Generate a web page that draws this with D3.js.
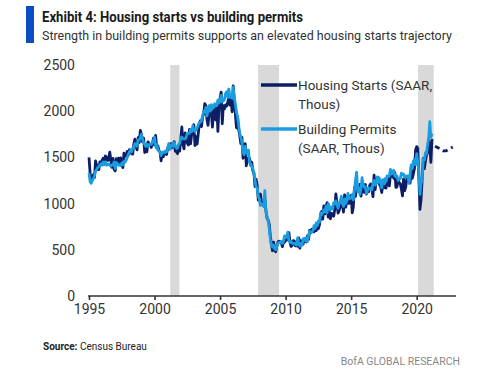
<!DOCTYPE html>
<html>
<head>
<meta charset="utf-8">
<script src="https://cdn.jsdelivr.net/npm/d3@7"></script>
<style>
  body { margin: 0; background: #fff; }
  svg { display: block; font-family: Roboto, "Open Sans", sans-serif; }
</style>
</head>
<body>
<svg id="chart" width="500" height="372"></svg>
<script>
// monthly series, Jan 1995 .. Mar 2021 (thousands, SAAR)
var firstYear = 1995;
var startsMonthly = [
  1500,1330,1250,1267,1314,1281,1461,1416,1369,1369,1452,1431,
  1467,1491,1424,1516,1504,1467,1472,1557,1475,1392,1489,1370,
  1355,1486,1457,1492,1442,1494,1437,1390,1546,1520,1510,1566,
  1525,1584,1567,1540,1536,1641,1698,1614,1582,1715,1660,1792,
  1748,1670,1710,1553,1611,1559,1669,1648,1635,1608,1648,1708,
  1636,1737,1604,1626,1575,1559,1463,1541,1507,1549,1551,1532,
  1600,1625,1590,1649,1605,1636,1670,1567,1562,1540,1602,1568,
  1698,1829,1642,1592,1764,1717,1655,1633,1804,1648,1753,1788,
  1853,1629,1726,1643,1751,1867,1897,1833,1939,1967,2083,2057,
  1911,1846,1998,2003,1981,1828,2002,2024,1905,2072,1782,2042,
  2144,2207,1864,2061,2025,2068,2054,2095,2151,2065,2147,1994,
  2273,2119,1969,1821,1942,1802,1737,1650,1720,1491,1570,1649,
  1409,1480,1495,1490,1415,1448,1354,1330,1183,1264,1197,1037,
  1084,1103,1005,1013,973,1046,923,844,820,777,652,560,
  490,582,505,478,540,585,594,586,585,534,588,581,
  614,604,636,687,583,536,546,599,594,543,545,539,
  630,517,600,554,561,608,623,585,650,610,711,694,
  723,704,695,753,708,757,728,770,854,915,833,976,
  888,962,1010,853,919,835,894,883,864,936,1105,1012,
  897,924,970,1052,985,909,1095,961,1023,1074,1002,1079,
  1090,900,963,1174,1077,1199,1141,1134,1207,1080,1172,1164,
  1122,1208,1104,1163,1128,1197,1213,1160,1075,1309,1151,1257,
  1232,1282,1206,1185,1120,1215,1178,1172,1168,1247,1289,1192,
  1317,1295,1325,1274,1338,1175,1181,1263,1226,1215,1157,1084,
  1266,1140,1181,1275,1294,1240,1223,1394,1274,1325,1381,1580,
  1617,1599,1275,938,1046,1258,1489,1376,1459,1530,1547,1680,
  1625,1447,1700
];
var permitsMonthly = [
  1330,1240,1220,1250,1270,1300,1350,1369,1390,1402,1410,1432,
  1415,1450,1430,1450,1418,1418,1430,1420,1405,1419,1418,1450,
  1380,1445,1430,1415,1420,1410,1440,1420,1460,1450,1470,1500,
  1530,1560,1580,1560,1600,1600,1650,1650,1620,1690,1690,1710,
  1750,1700,1660,1640,1620,1640,1620,1640,1640,1640,1660,1680,
  1720,1620,1640,1580,1570,1560,1520,1550,1560,1550,1570,1560,
  1600,1650,1590,1620,1640,1620,1660,1620,1600,1600,1640,1650,
  1710,1720,1700,1700,1700,1720,1760,1760,1760,1800,1780,1840,
  1800,1780,1800,1820,1850,1880,1880,1900,1950,2000,1990,2040,
  1950,2010,2060,2000,2070,2030,2040,2080,2060,2060,2120,2090,
  2120,2170,2100,2110,2130,2190,2210,2150,2240,2150,2150,2140,
  2260,2150,2080,1990,1940,1850,1760,1720,1660,1560,1530,1620,
  1560,1540,1580,1440,1430,1400,1380,1330,1250,1180,1170,1080,
  1050,980,1000,990,970,1140,910,860,820,730,620,550,
  530,550,510,500,540,570,580,580,590,570,590,650,
  630,650,690,600,580,590,570,570,570,560,550,630,
  570,540,570,550,620,620,600,630,590,650,700,680,
  690,710,760,730,790,760,810,800,900,880,900,930,
  910,970,900,1000,970,930,960,940,1010,1000,1030,990,
  950,1010,1010,1080,1000,970,1050,1000,1030,1110,1050,1060,
  1060,1100,1040,1140,1250,1340,1130,1170,1100,1160,1280,1200,
  1180,1180,1110,1140,1170,1160,1170,1150,1230,1250,1200,1220,
  1290,1230,1270,1230,1170,1260,1220,1270,1240,1300,1290,1300,
  1370,1320,1350,1360,1300,1290,1300,1250,1270,1270,1330,1310,
  1320,1290,1290,1300,1300,1220,1320,1420,1380,1460,1480,1420,
  1540,1450,1350,1100,1220,1260,1480,1470,1550,1540,1640,1710,
  1886,1720,1760
];
// dashed projection for housing starts
var forecastYears = [2021.4, 2021.75, 2022.0, 2022.25, 2022.5, 2022.75];
var forecastStarts = [1620, 1595, 1570, 1572, 1592, 1612];
// recession shading
var recessions = [[2001.2, 2001.9], [2007.9, 2009.5], [2020.1, 2021.3]];
var yTicks = [0, 500, 1000, 1500, 2000, 2500];
var xTicks = [1995, 2000, 2005, 2010, 2015, 2020];

var navy = '#0c1f66';
var light = '#1a9de0';

var svg = d3.select('#chart');
var x = d3.scaleLinear().domain([1995, 2023]).range([89, 456]);
var y = d3.scaleLinear().domain([0, 2500]).range([296, 65]);

var toPoints = function(arr) {
  return arr.map(function(v, i) { return { t: firstYear + i / 12, v: v }; });
};

// title block
svg.append('rect').attr('x', 26).attr('y', 6).attr('width', 8).attr('height', 37).attr('fill', '#0a4dc4');
svg.append('text').attr('x', 42).attr('y', 22)
  .attr('font-size', 14).attr('font-weight', 'bold').attr('fill', '#1a1a1a')
  .attr('textLength', 261).attr('lengthAdjust', 'spacingAndGlyphs')
  .text('Exhibit 4: Housing starts vs building permits');
svg.append('text').attr('x', 42).attr('y', 40)
  .attr('font-size', 13).attr('fill', '#333')
  .attr('textLength', 410).attr('lengthAdjust', 'spacingAndGlyphs')
  .text('Strength in building permits supports an elevated housing starts trajectory');

// recessions
svg.append('g').selectAll('rect').data(recessions).enter().append('rect')
  .attr('x', function(d) { return x(d[0]); })
  .attr('width', function(d) { return x(d[1]) - x(d[0]); })
  .attr('y', y(2500))
  .attr('height', y(0) - y(2500))
  .attr('fill', '#d9d9d9');

// y labels (no axis line)
svg.append('g').selectAll('text').data(yTicks).enter().append('text')
  .attr('x', 75).attr('y', function(d) { return y(d); })
  .attr('dy', '0.35em').attr('text-anchor', 'end')
  .attr('font-size', 14).attr('fill', '#333')
  .text(function(d) { return d; });

// x axis
var xAxis = svg.append('g').attr('transform', 'translate(0,' + y(0) + ')')
  .call(d3.axisBottom(x).tickValues(xTicks).tickFormat(d3.format('d')).tickSize(4).tickPadding(4));
xAxis.select('.domain').attr('stroke', '#333').attr('stroke-width', 1.6).attr('d', 'M88,0H456');
xAxis.selectAll('.tick line').attr('stroke', '#333').attr('stroke-width', 1.6);
xAxis.selectAll('.tick text').attr('font-size', 14).attr('fill', '#333')
  .attr('font-family', 'Roboto, sans-serif');

var line = d3.line().x(function(d) { return x(d.t); }).y(function(d) { return y(d.v); });

svg.append('path').datum(toPoints(startsMonthly))
  .attr('d', line).attr('fill', 'none').attr('stroke', navy).attr('stroke-width', 2.8)
  .attr('stroke-linejoin', 'round');
svg.append('path').datum(toPoints(permitsMonthly))
  .attr('d', line).attr('fill', 'none').attr('stroke', light).attr('stroke-width', 2.8)
  .attr('stroke-linejoin', 'round');
svg.append('path').datum(forecastYears.map(function(t, i) { return { t: t, v: forecastStarts[i] }; }))
  .attr('d', line).attr('fill', 'none').attr('stroke', navy).attr('stroke-width', 2.8)
  .attr('stroke-dasharray', '5,4');

// legend
var legend = [
  { color: navy, lines: ['Housing Starts (SAAR,', 'Thous)'], y: 85 },
  { color: light, lines: ['Building Permits', '(SAAR, Thous)'], y: 129 }
];
legend.forEach(function(l) {
  svg.append('line').attr('x1', 261).attr('x2', 297).attr('y1', l.y).attr('y2', l.y)
    .attr('stroke', l.color).attr('stroke-width', 3.5);
  l.lines.forEach(function(s, i) {
    svg.append('text').attr('x', 298).attr('y', l.y + 5 + i * 18.5)
      .attr('font-size', 13.5).attr('fill', '#333').text(s);
  });
});

// footer
var src = svg.append('text').attr('x', 43).attr('y', 350).attr('font-size', 10).attr('fill', '#222');
src.append('tspan').attr('font-weight', 'bold').text('Source:');
src.append('tspan').text(' Census Bureau');
svg.append('text').attr('x', 460).attr('y', 365).attr('text-anchor', 'end')
  .attr('font-size', 10.5).attr('fill', '#888').text('BofA GLOBAL RESEARCH');
</script>
</body>
</html>
